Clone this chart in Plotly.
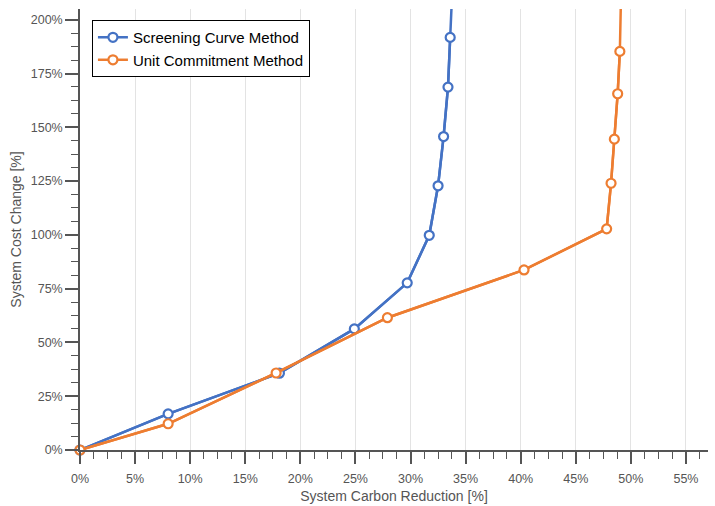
import plotly.graph_objects as go

# Data (percent)
scm_x = [0, 8.0, 18.1, 24.9, 29.7, 31.7, 32.5, 33.0, 33.4, 33.6, 33.8]
scm_y = [0, 16.8, 35.7, 56.3, 77.7, 99.8, 122.8, 145.7, 168.7, 191.8, 215.0]
ucm_x = [0, 8.0, 17.8, 27.9, 40.3, 47.8, 48.2, 48.5, 48.8, 49.0, 49.1]
ucm_y = [0, 12.2, 35.8, 61.5, 83.7, 102.8, 124.0, 144.5, 165.6, 185.3, 210.0]
series_names = ["Screening Curve Method", "Unit Commitment Method"]
colors = ["#4472C4", "#ED7D31"]
x_ticks = list(range(0, 56, 5))
y_ticks = list(range(0, 201, 25))
x_labels = [f"{v}%" for v in x_ticks]
y_labels = [f"{v}%" for v in y_ticks]
y_max = 205

fig = go.Figure()
for name, xs, ys, c in [(series_names[0], scm_x, scm_y, colors[0]),
                        (series_names[1], ucm_x, ucm_y, colors[1])]:
    # full line (clipped at the top of the plot)
    fig.add_trace(go.Scatter(
        x=xs, y=ys, mode="lines", showlegend=False, hoverinfo="skip",
        line=dict(color=c, width=2.5), cliponaxis=True,
    ))
    # visible points with markers (not clipped so edge markers show fully)
    vx = [x for x, y in zip(xs, ys) if y <= y_max]
    vy = [y for y in ys if y <= y_max]
    fig.add_trace(go.Scatter(
        x=vx, y=vy, name=name, mode="lines+markers",
        line=dict(color=c, width=2.5),
        marker=dict(symbol="circle", size=9, color="white",
                    line=dict(color=c, width=2.2)),
        cliponaxis=False,
    ))

fam = "Liberation Sans, Arial, sans-serif"
axis_font = dict(family=fam, size=12.5, color="#555555")
title_font = dict(family=fam, size=14, color="#555555")

fig.update_layout(
    width=715, height=506,
    margin=dict(l=80, r=7, t=9, b=56, autoexpand=False),
    paper_bgcolor="white", plot_bgcolor="white",
    font=dict(family=fam),
    showlegend=True,
    legend=dict(
        x=0.019, y=0.975, xanchor="left", yanchor="top",
        bgcolor="white", bordercolor="black", borderwidth=1,
        font=dict(size=15, color="black", family=fam),
        tracegroupgap=0, itemwidth=30,
    ),
    xaxis=dict(
        range=[0, 57], tickmode="array", tickvals=x_ticks, ticktext=x_labels,
        automargin=False,
        showgrid=True, gridcolor="#e3e3e3", gridwidth=1,
        showline=True, linecolor="#555555", linewidth=1.5,
        ticks="outside", ticklen=12, tickwidth=1.5, tickcolor="#555555",
        tickfont=axis_font, zeroline=False, ticklabelstandoff=4,
        minor=dict(dtick=1.25, tick0=0, ticks="outside", ticklen=7,
                   tickwidth=1.2, tickcolor="#555555", showgrid=False),
        title=dict(text="System Carbon Reduction [%]", font=title_font, standoff=6),
    ),
    yaxis=dict(
        range=[0, y_max], tickmode="array", tickvals=y_ticks, ticktext=y_labels,
        automargin=False,
        showgrid=False,
        showline=True, linecolor="#555555", linewidth=1.5,
        ticks="outside", ticklen=13, tickwidth=1.5, tickcolor="#555555",
        tickfont=axis_font, zeroline=False,
        minor=dict(dtick=6.25, tick0=0, ticks="outside", ticklen=7,
                   tickwidth=1.2, tickcolor="#555555", showgrid=False),
        title=dict(text="System Cost Change [%]", font=title_font, standoff=6),
    ),
)

fig.write_html("out.html", post_script="document.body.style.margin='0';",
               config={"displayModeBar": False})
